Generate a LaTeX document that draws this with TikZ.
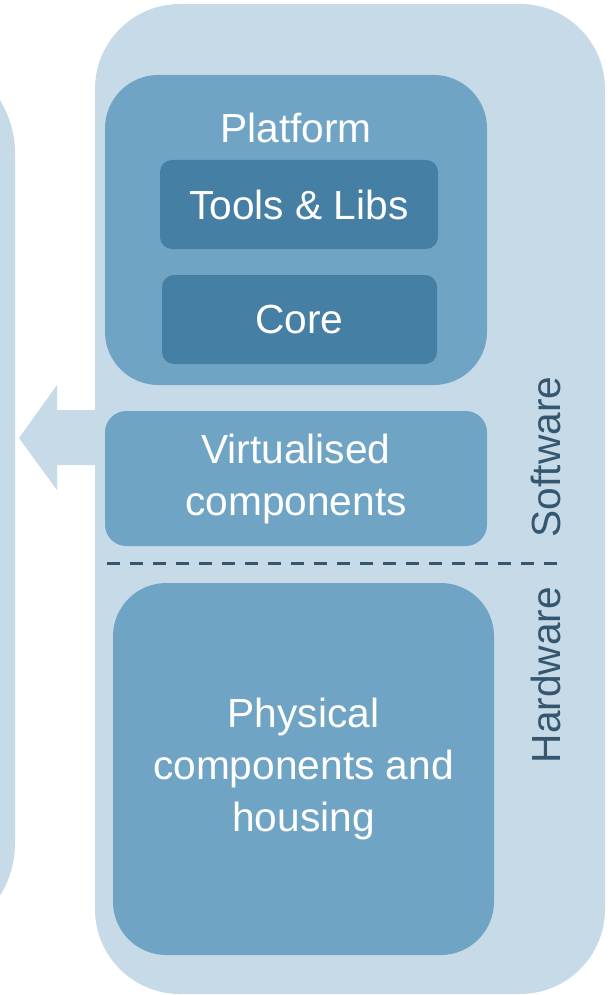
\documentclass[tikz,border=0pt]{standalone}
\usepackage{fontspec}
\setmainfont{Liberation Sans}
\usepackage{tikz}
\definecolor{layerlight}{HTML}{C6DAE7}
\definecolor{layermid}{HTML}{70A4C4}
\definecolor{layerdark}{HTML}{457FA3}
\definecolor{labeldark}{HTML}{34576F}
\tikzstyle{panel}=[fill=layerlight, rounded corners=63.75pt, inner sep=0pt]
\tikzstyle{box-big}=[fill=layermid, rounded corners=40pt, inner sep=0pt, text=white, align=center]
\tikzstyle{box-mid}=[fill=layermid, rounded corners=16pt, inner sep=0pt, text=white, align=center]
\tikzstyle{box-inner}=[fill=layerdark, rounded corners=9pt, inner sep=0pt, text=white, align=center]
\tikzstyle{side-label}=[rotate=90, text=labeldark]

\begin{document}
\begin{tikzpicture}[x=0.75pt, y=-0.75pt, font=\fontsize{30.5}{39}\selectfont]
	 \useasboundingbox (0,0) rectangle (616,995);
	 \clip (0,0) rectangle (616,995);
	% panels
	 \fill [layerlight, rounded corners=75pt] (-200,53) rectangle (15,943);
	 \node [panel, minimum width=382.5pt, minimum height=742.5pt] (outer) at (350,499) {};
	% nodes
	 \node [box-big, minimum width=286.5pt, minimum height=232.5pt] (platform) at (296,230) {};
	 \node [text=white] (plattitle) at (296,128) {Platform};
	 \node [box-inner, minimum width=208.5pt, minimum height=66.75pt] (tools) at (299,204.5) {Tools \& Libs};
	 \node [box-inner, minimum width=206.25pt, minimum height=66.75pt] (core) at (299.5,319.5) {Core};
	 \node [box-mid, minimum width=286.5pt, minimum height=101.25pt] (virt) at (296,478.5) {Virtualised\\components};
	 \node [box-big, minimum width=285.75pt, minimum height=279pt] (phys) at (303.5,769) {Physical\\components and\\housing};
	 
	 \node [side-label] (sw) at (546,457) {Software};
	 \node [side-label] (hw) at (546,675) {Hardware};
	 
	% arrow and divider
	 \fill [layerlight] (19,438) -- (57,385) -- (57,410) -- (100,410) -- (100,465) -- (57,465) -- (57,490) -- cycle;
	 \draw [labeldark, line width=2.25pt, dash pattern=on 9.75pt off 7.5pt] (107,563) -- (562,563);
\end{tikzpicture}
\end{document}
